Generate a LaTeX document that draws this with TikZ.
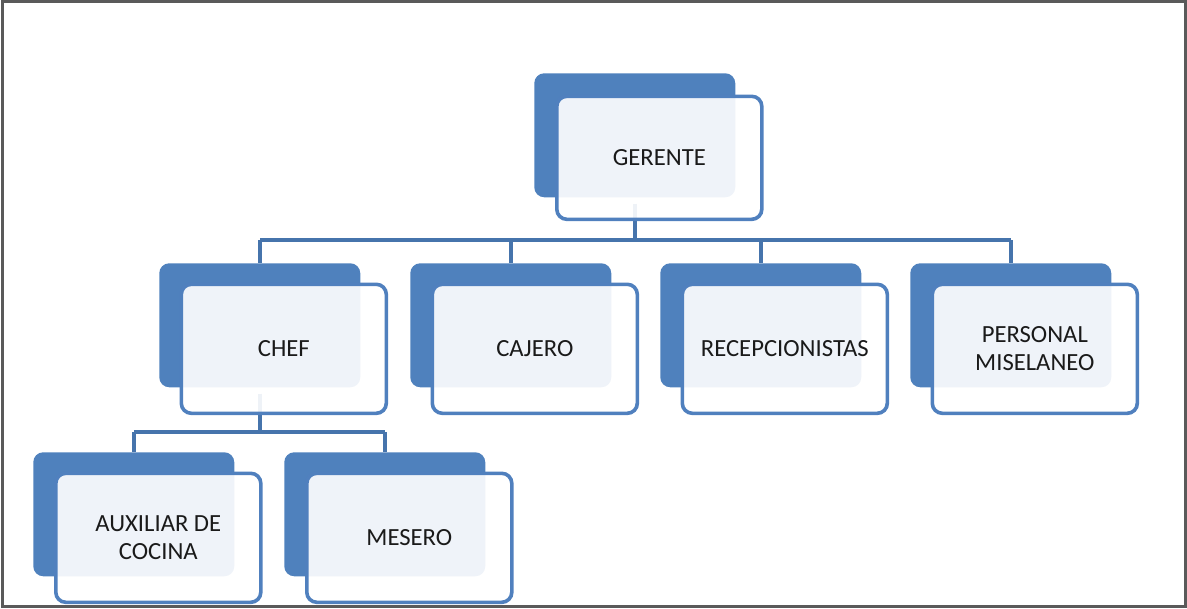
\documentclass[tikz,border=0pt]{standalone}
\usepackage{fontspec}
\setmainfont{Carlito}
\definecolor{backblue}{HTML}{4F81BD}
\definecolor{edgeblue}{HTML}{5080BE}
\definecolor{linkblue}{HTML}{4674AC}
\definecolor{framegray}{HTML}{5A5A5A}
\definecolor{txt}{HTML}{1A1A1A}
\tikzset{
  backbox/.style={rectangle, rounded corners=7.5pt, fill=backblue, draw=none,
    minimum width=150.75pt, minimum height=93pt, anchor=north west, inner sep=0pt},
  frontbox/.style={rectangle, rounded corners=7.5pt, draw=edgeblue, line width=2.7pt,
    fill=white, fill opacity=0.91, text opacity=1, text=txt,
    minimum width=153.75pt, minimum height=96.75pt, anchor=north west, inner sep=0pt,
    align=center, font=\fontsize{18.5}{21}\selectfont},
  topfront/.style={frontbox, minimum height=92.25pt},
  conn/.style={draw=linkblue, line width=2.7pt}
}
\begin{document}
\begin{tikzpicture}[x=0.75pt,y=-0.75pt]
\useasboundingbox (0,0) rectangle (1187,608);
\draw[framegray, line width=1.9pt] (2.5,1.3) rectangle (1185.7,606.7);
% back boxes
\node[backbox] (gb) at (534,73) {};
\node[backbox] (cb) at (159,263) {};
\node[backbox] (jb) at (410,263) {};
\node[backbox] (rb) at (660,263) {};
\node[backbox] (pb) at (910,263) {};
\node[backbox] (ab) at (33,452) {};
\node[backbox] (mb) at (284,452) {};
% connectors
\coordinate (bus) at (634.5,240);
\coordinate (bus2) at (259.5,432);
\draw[conn] (gb.south) ++(0,6) -- (gb.south |- bus);
\draw[conn] (cb.north |- bus) -- (pb.north |- bus);
\foreach \n in {cb,jb,rb,pb}{\draw[conn] (\n.north |- bus) -- (\n.north);}
\draw[conn] (cb.south) ++(0,6) -- (cb.south |- bus2);
\draw[conn] (ab.north |- bus2) -- (mb.north |- bus2);
\foreach \n in {ab,mb}{\draw[conn] (\n.north |- bus2) -- (\n.north);}
% front boxes
\node[topfront] (g) at (555,94.5) {GERENTE};
\node[frontbox] (c) at (179.5,282.5) {CHEF};
\node[frontbox] (j) at (430.5,282.5) {CAJERO};
\node[frontbox] (r) at (680.5,282.5) {RECEPCIONISTAS};
\node[frontbox] (p) at (930.5,282.5) {PERSONAL\\MISELANEO};
\node[frontbox] (a) at (54,471.5) {AUXILIAR DE\\COCINA};
\node[frontbox] (m) at (305,471.5) {MESERO};
\end{tikzpicture}
\end{document}
